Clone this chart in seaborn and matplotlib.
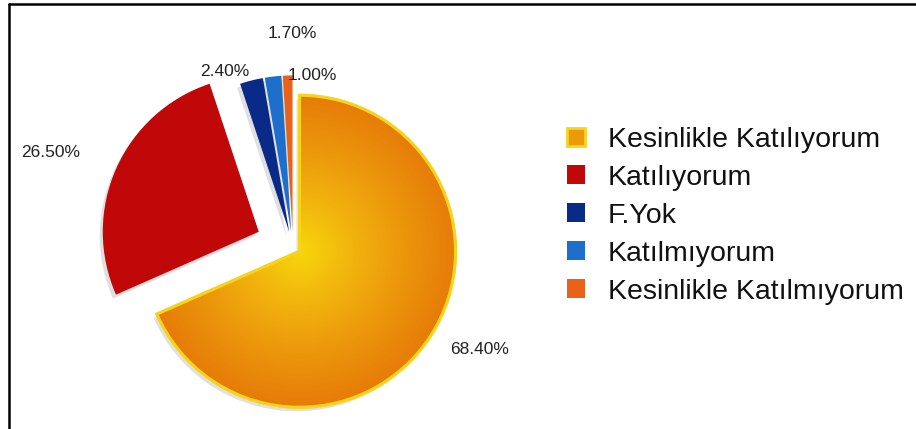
import numpy as np
import seaborn as sns
import matplotlib.pyplot as plt
from matplotlib.patches import Wedge
from matplotlib.colors import LinearSegmentedColormap
from matplotlib.lines import Line2D

# data
categories = ["Kesinlikle Katılıyorum", "Katılıyorum", "F.Yok",
              "Katılmıyorum", "Kesinlikle Katılmıyorum"]
shares = [68.4, 26.5, 2.4, 1.7, 1.0]
pct_labels = ["68.40%", "26.50%", "2.40%", "1.70%", "1.00%"]

colors = ["#EC9A0C", "#C00808", "#0A2A88", "#1D6FCB", "#E8621A"]
explode = [0.05, 0.24, 0.1, 0.1, 0.1]   # fraction of radius
# label distance (fraction of radius) and alignment per slice
lab_dist = [1.15, 1.25, 1.06, 1.28, 1.0]
lab_ha = ["left", "right", "right", "left", "left"]

sns.set_theme(style="white")
plt.rcParams["font.family"] = ["Liberation Sans", "DejaVu Sans"]

fig = plt.figure(figsize=(9.16, 4.29), dpi=100)
ax = fig.add_axes([0, 0, 1, 1])

R = 156
wedges, _ = ax.pie(shares, colors=colors, explode=[e * R for e in explode],
                   startangle=90, counterclock=False, radius=R, center=(293, 182),
                   wedgeprops=dict(linewidth=0))
ax.set_xlim(0, 916)
ax.set_ylim(0, 429)
ax.set_aspect("equal")
ax.axis("off")

wedges[0].set_edgecolor("#F6D41C")
wedges[0].set_linewidth(2)

# soft grey shadows
for w in wedges:
    cx, cy = w.center
    sh = Wedge((cx - 3, cy - 4), w.r, w.theta1, w.theta2,
               facecolor="#e0e0e0", edgecolor="none", zorder=w.get_zorder() - 0.5)
    ax.add_patch(sh)

# legend before the gradient is applied
leg = ax.legend(wedges, categories, loc="center left",
                bbox_to_anchor=(0.591, 0.497), frameon=False, fontsize=20.5,
                handlelength=0.63, handleheight=0.63, handletextpad=0.8,
                labelspacing=0.42)
for t in leg.get_texts():
    t.set_color("#111111")

# radial gradient on the big slice
big = wedges[0]
cx, cy = big.center
xs = np.linspace(cx - R, cx + R, 300)
ys = np.linspace(cy - R, cy + R, 300)
X, Y = np.meshgrid(xs, ys)
dist = np.sqrt((X - cx) ** 2 + (Y - cy) ** 2) / R
grad = LinearSegmentedColormap.from_list("g", ["#F7D60C", "#F2B40E", "#EC960C", "#E67C08"])
im = ax.imshow(dist, cmap=grad, vmin=0, vmax=1, origin="lower",
               extent=(cx - R, cx + R, cy - R, cy + R), zorder=big.get_zorder() + 0.1)
im.set_clip_path(big)
outline = Wedge(big.center, R, big.theta1, big.theta2, facecolor="none",
                edgecolor="#F6D41C", linewidth=2.2, zorder=big.get_zorder() + 0.2)
ax.add_patch(outline)
ax.set_xlim(0, 916)
ax.set_ylim(0, 429)

# percentage labels
for w, txt, d, ha in zip(wedges, pct_labels, lab_dist, lab_ha):
    ang = np.deg2rad((w.theta1 + w.theta2) / 2)
    x = w.center[0] + w.r * d * np.cos(ang)
    y = w.center[1] + w.r * d * np.sin(ang)
    ax.text(x, y, txt, ha=ha, va="center", fontsize=12.5, color="#222222")

# border on top and left
fig.add_artist(Line2D([9 / 916, 1], [1 - 4 / 429, 1 - 4 / 429], color="black", lw=1.8))
fig.add_artist(Line2D([9 / 916, 9 / 916], [0, 1 - 4 / 429], color="black", lw=1.8))

fig.savefig("out.png", dpi=100)
